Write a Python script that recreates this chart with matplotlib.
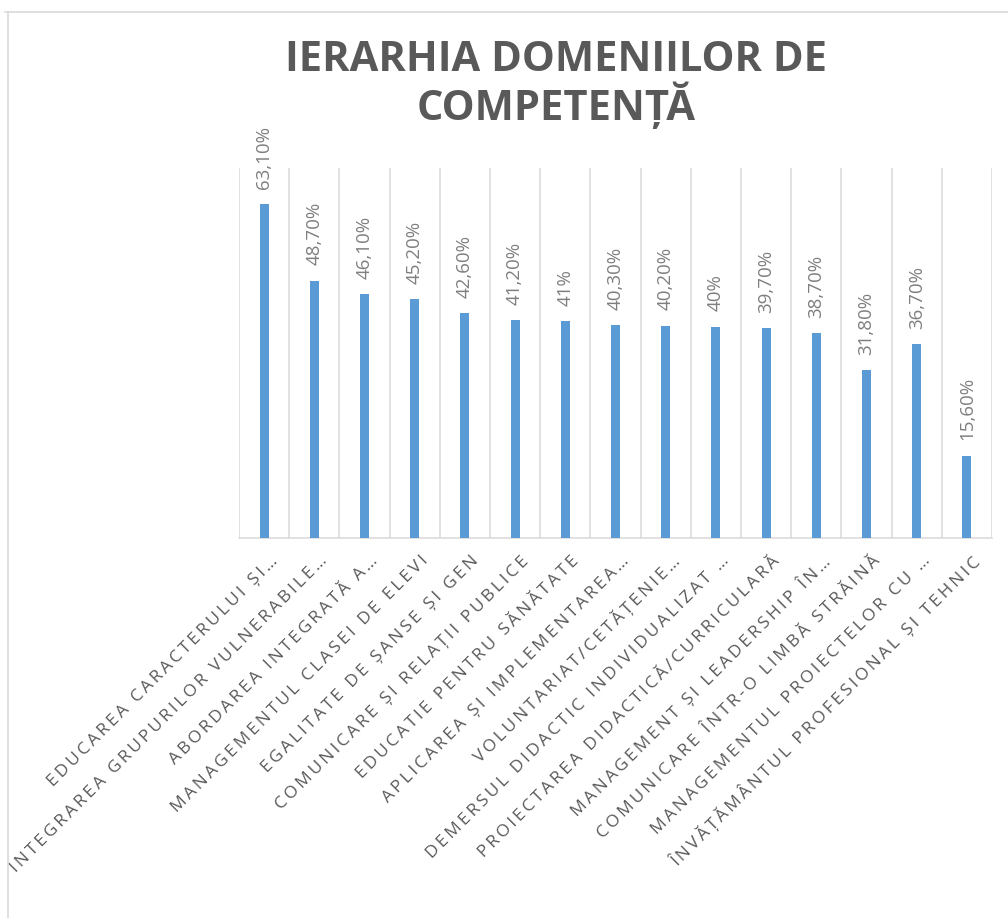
import matplotlib
matplotlib.use("Agg")
import matplotlib.pyplot as plt
from matplotlib.lines import Line2D
from matplotlib.transforms import ScaledTranslation

# ---- data ----
categories = [
    "EDUCAREA CARACTERULUI ȘI…",
    "INTEGRAREA GRUPURILOR VULNERABILE…",
    "ABORDAREA INTEGRATĂ A…",
    "MANAGEMENTUL CLASEI DE ELEVI",
    "EGALITATE DE ȘANSE ȘI GEN",
    "COMUNICARE ȘI RELAȚII PUBLICE",
    "EDUCATIE PENTRU SĂNĂTATE",
    "APLICAREA ȘI IMPLEMENTAREA…",
    "VOLUNTARIAT/CETĂȚENIE…",
    "DEMERSUL DIDACTIC INDIVIDUALIZAT …",
    "PROIECTAREA DIDACTICĂ/CURRICULARĂ",
    "MANAGEMENT ȘI LEADERSHIP ÎN…",
    "COMUNICARE ÎNTR-O LIMBĂ STRĂINĂ",
    "MANAGEMENTUL PROIECTELOR CU …",
    "ÎNVĂȚĂMÂNTUL PROFESIONAL ȘI TEHNIC",
]
values = [63.1, 48.7, 46.1, 45.2, 42.6, 41.2, 41.0, 40.3, 40.2, 40.0, 39.7, 38.7, 31.8, 36.7, 15.6]
title = "IERARHIA DOMENIILOR DE\nCOMPETENȚĂ"

def fmt(v):
    if abs(v - round(v)) < 1e-9:
        return f"{int(round(v))}%"
    return f"{v:.2f}%".replace(".", ",")

def spaced(s):
    # emulate the wide letter spacing of the original axis labels
    return "\u2009".join(s)

W, H = 1008, 918
fig = plt.figure(figsize=(W / 100, H / 100), dpi=100)
fig.patch.set_facecolor("white")

# plot area in pixel coordinates
left, right, top, bottom = 239, 992, 168, 538
ax = fig.add_axes([left / W, 1 - bottom / H, (right - left) / W, (bottom - top) / H])

n = len(categories)
x = list(range(n))
ax.bar(x, values, width=0.18, color="#5B9BD5", zorder=3)

ax.set_xlim(-0.5, n - 0.5)
ax.set_ylim(0, 70)

# vertical gridlines at category boundaries
for b in range(n + 1):
    ax.axvline(b - 0.5, color="#D9D9D9", lw=1.1, zorder=1)

for s in ["top", "right", "left"]:
    ax.spines[s].set_visible(False)
ax.spines["bottom"].set_color("#D9D9D9")
ax.spines["bottom"].set_linewidth(1.1)
ax.set_yticks([])

ax.set_xticks(x)
ax.set_xticklabels([spaced(c) for c in categories], rotation=45, ha="right", va="center",
                   rotation_mode="anchor", fontsize=12.5, color="#595959",
                   family=["Open Sans", "DejaVu Sans"])
ax.tick_params(axis="x", length=0, pad=15)
shift = ScaledTranslation(0.11, 0.0, fig.dpi_scale_trans)
for lab in ax.get_xticklabels():
    lab.set_transform(lab.get_transform() + shift)

# data labels
for xi, v in zip(x, values):
    ax.annotate(fmt(v), (xi, v), xytext=(0, 11), textcoords="offset points",
                rotation=90, ha="center", va="bottom", fontsize=13.5,
                color="#7F7F7F", family=["Open Sans", "DejaVu Sans"])

# title
fig.text(556 / W, 1 - 40 / H, title, ha="center", va="top", fontsize=30,
         fontweight="bold", color="#595959", linespacing=1.05,
         family=["Open Sans", "DejaVu Sans"])

# chart border (cropped)
fig.add_artist(Line2D([5 / W, 1], [1 - 12 / H, 1 - 12 / H], color="#D9D9D9", lw=1.2,
                      transform=fig.transFigure))
fig.add_artist(Line2D([8 / W, 8 / W], [0, 1 - 12 / H], color="#D9D9D9", lw=1.2,
                      transform=fig.transFigure))

fig.savefig("out.png", dpi=100)
